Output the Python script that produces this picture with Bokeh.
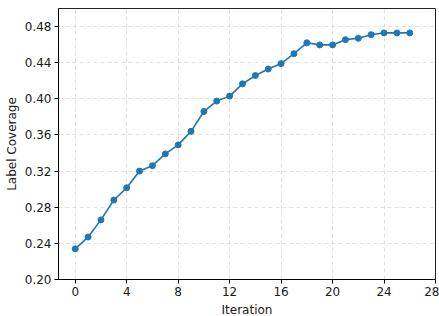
from bokeh.plotting import figure
from bokeh.models import FixedTicker, Range1d, CustomJSTickFormatter
from bokeh.embed import file_html
from bokeh.resources import INLINE

iterations = list(range(27))
coverage = [0.234, 0.247, 0.266, 0.288, 0.3015, 0.320, 0.326, 0.339, 0.349, 0.364,
            0.386, 0.3975, 0.403, 0.4166, 0.4258, 0.433, 0.439, 0.450, 0.462, 0.4597,
            0.4597, 0.4655, 0.467, 0.471, 0.473, 0.473, 0.473]
x_ticks = [0, 4, 8, 12, 16, 20, 24, 28]
y_ticks = [0.20, 0.24, 0.28, 0.32, 0.36, 0.40, 0.44, 0.48]

p = figure(width=439, height=316, output_backend="svg", toolbar_location=None,
           x_range=Range1d(-1.3, 28), y_range=Range1d(0.20, 0.50),
           min_border_left=58, min_border_right=4, min_border_top=8, min_border_bottom=37)
p.frame_width = 377
p.frame_height = 271

p.line(iterations, coverage, line_color="#1f77b4", line_width=1.6)
p.scatter(iterations, coverage, size=6, fill_color="#1f77b4", line_color="#1f77b4")

p.xaxis.ticker = FixedTicker(ticks=x_ticks)
p.yaxis.ticker = FixedTicker(ticks=y_ticks)
p.yaxis.formatter = CustomJSTickFormatter(code="return tick.toFixed(2);")

for ax in (p.xaxis[0], p.yaxis[0]):
    ax.major_label_text_font = "DejaVu Sans"
    ax.major_label_text_font_size = "12px"
    ax.major_label_text_color = "#1a1a1a"
    ax.axis_label_text_font = "DejaVu Sans"
    ax.axis_label_text_font_size = "12px"
    ax.axis_label_text_font_style = "normal"
    ax.axis_label_text_color = "#1a1a1a"
    ax.minor_tick_line_color = None
    ax.major_tick_out = 4
    ax.major_tick_in = 0
    ax.axis_line_color = "black"
    ax.major_tick_line_color = "black"
    ax.major_label_standoff = 3

p.xaxis.axis_label = "Iteration"
p.yaxis.axis_label = "Label Coverage"
p.xaxis.axis_label_standoff = 4
p.yaxis.axis_label_standoff = 3

p.xgrid.ticker = FixedTicker(ticks=x_ticks)
p.ygrid.ticker = FixedTicker(ticks=y_ticks)
for g in (p.xgrid[0], p.ygrid[0]):
    g.grid_line_color = "#d9d9d9"
    g.grid_line_dash = "4 3"
    g.grid_line_width = 0.8

p.outline_line_color = "#222222"
p.outline_line_width = 1
p.background_fill_color = "white"
p.border_fill_color = "white"

open("out.html", "w").write(file_html(p, INLINE))
